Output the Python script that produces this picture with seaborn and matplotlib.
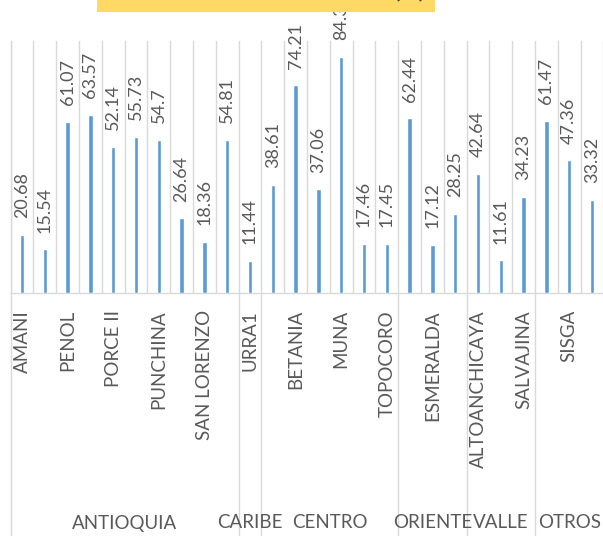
##### embalses por region - barras verticales con etiquetas giradas
import matplotlib
matplotlib.use('Agg')
import matplotlib.pyplot as plt
import matplotlib.transforms as mtransforms
from matplotlib.patches import Rectangle
import seaborn as sns
import pandas as pd
import numpy as np

##### datos
plants = ['AMANI', 'MIRAFLORES', 'PENOL', 'PLAYAS', 'PORCE II', 'PORCE III',
          'PUNCHINA', 'RIOGRANDE2', 'SAN LORENZO', 'TRONERAS',
          'URRA1',
          'AGREGADO BOGOTA', 'BETANIA', 'EL QUIMBO', 'MUNA', 'PRADO', 'TOPOCORO',
          'CHUZA', 'ESMERALDA', 'GUAVIO',
          'ALTOANCHICAYA', 'CALIMA1', 'SALVAJINA',
          'NEUSA', 'SISGA', 'TOMINE']
values = [20.68, 15.54, 61.07, 63.57, 52.14, 55.73, 54.7, 26.64, 18.36, 54.81,
          11.44,
          38.61, 74.21, 37.06, 84.3, 17.46, 17.45,
          62.44, 17.12, 28.25,
          42.64, 11.61, 34.23,
          61.47, 47.36, 33.32]
group_names = ['ANTIOQUIA', 'CARIBE', 'CENTRO', 'ORIENTE', 'VALLE', 'OTROS']
group_sizes = [10, 1, 6, 3, 3, 3]
title = 'VOLUMEN ÚTIL DE EMBALSES (%)'

df = pd.DataFrame({'plant': plants, 'value': values})

##### estilo
sns.set_theme(style='white')
plt.rcParams['font.family'] = ['Lato', 'DejaVu Sans']
grid_c = '#D9D9D9'
text_c = '#595959'

W, H = 603, 536
fig = plt.figure(figsize=(W / 100, H / 100), dpi=100)
ax = fig.add_axes([10.6 / W, (H - 293) / H, 592.8 / W, 252 / H])

sns.barplot(data=df, x='plant', y='value', order=plants, color='#5B9BD5',
            saturation=1, width=0.2, ax=ax, zorder=3)

ax.set_xlim(-0.5, len(plants) - 0.5)
ax.set_ylim(0, 90)
ax.set_xlabel('')
ax.set_ylabel('')
ax.set_yticks([])
ax.set_xticks(range(len(plants)))
ax.set_xticklabels([])
ax.set_xticks(np.arange(-0.5, len(plants), 1), minor=True)
ax.tick_params(which='both', length=0)
ax.grid(False)
ax.grid(which='minor', axis='x', color=grid_c, lw=1, zorder=0)
for s in ['top', 'right']:
    ax.spines[s].set_visible(False)
for s in ['left', 'bottom']:
    ax.spines[s].set_color(grid_c)
    ax.spines[s].set_linewidth(1)

trans = mtransforms.blended_transform_factory(ax.transData, ax.transAxes)

##### etiquetas de valor
for i, v in enumerate(values):
    ax.annotate(f'{v:g}', (i, v), xytext=(0, 12), textcoords='offset points',
                rotation=90, ha='center', va='bottom', fontsize=13,
                color=text_c, annotation_clip=False)

##### nombres de embalses (uno si, uno no)
for i, name in enumerate(plants):
    if i % 2 == 0:
        ax.text(i, -17 / 252, name, rotation=90, ha='center', va='top',
                fontsize=13.5, color=text_c, transform=trans)

##### separadores y nombres de region
start = 0
for name, size in zip(group_names, group_sizes):
    b = start - 0.5
    ax.plot([b, b], [0, -1.0], transform=trans, color=grid_c, lw=1, clip_on=False)
    ax.text(start + size / 2 - 0.5, (293 - 523) / 252, name, ha='center',
            va='center', fontsize=13.5, color=text_c, transform=trans)
    start += size

##### caja del titulo (recortada arriba)
fig.add_artist(Rectangle((97 / W, 1 - 12 / H), (435 - 97) / W, 20 / H,
                         transform=fig.transFigure, facecolor='#FFD966',
                         edgecolor='none', zorder=5))
fig.text(425 / W, 1 + 2 / H, title, ha='right', va='baseline', fontsize=16,
         fontweight='bold', color='#404040', zorder=6)

fig.savefig('out.png', dpi=100)
